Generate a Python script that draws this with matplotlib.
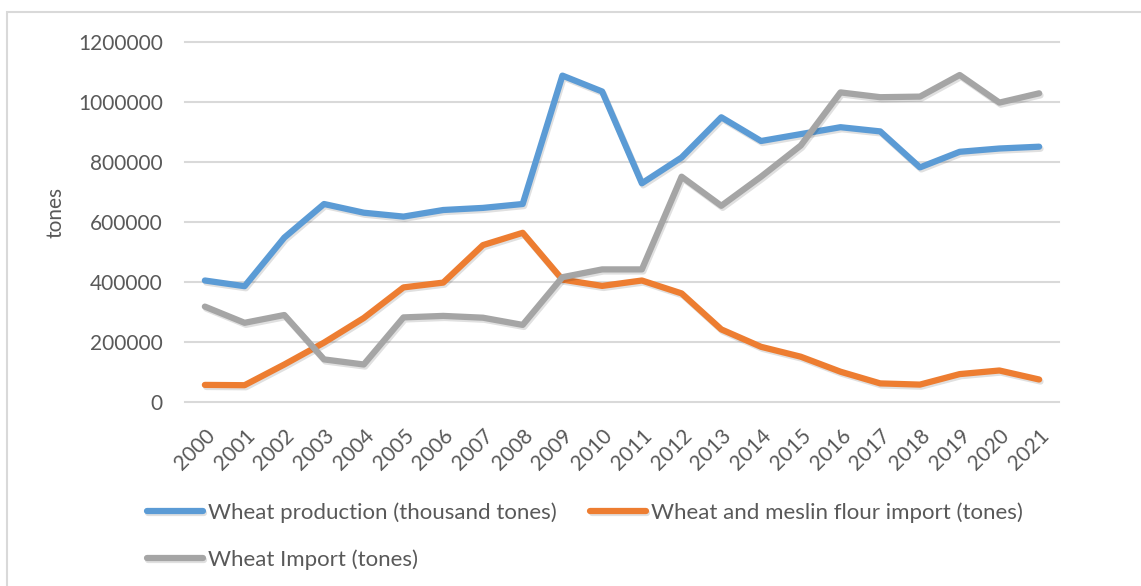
import matplotlib
matplotlib.use("Agg")
import matplotlib.pyplot as plt
import matplotlib.patheffects as pe
from matplotlib.patches import Rectangle

# ----- Datos -----
years = [str(y) for y in range(2000, 2022)]
wheat_production = [405000, 386000, 548000, 660000, 631000, 618000, 640000, 647000, 660000,
                    1088000, 1035000, 729000, 815000, 949000, 870000, 893000, 916000, 902000,
                    782000, 834000, 845000, 851000]
flour_import = [57000, 56000, 125000, 198000, 280000, 382000, 398000, 523000, 564000,
                408000, 387000, 405000, 362000, 242000, 184000, 151000, 101000, 62000,
                58000, 93000, 105000, 75000]
wheat_import = [318000, 264000, 290000, 142000, 125000, 282000, 287000, 281000, 257000,
                416000, 442000, 442000, 751000, 654000, 751000, 855000, 1032000, 1016000,
                1018000, 1090000, 998000, 1029000]
yticks = [0, 200000, 400000, 600000, 800000, 1000000, 1200000]

# ----- Estilo -----
BLUE = "#5B9BD5"
ORANGE = "#ED7D31"
GRAY = "#A5A5A5"
TXT = "#595959"
GRID = "#D9D9D9"
plt.rcParams['font.family'] = ['Lato', 'DejaVu Sans']

fig = plt.figure(figsize=(11.41, 5.86), dpi=100)
W, H = 1141, 586
ax = fig.add_axes([185 / W, 1 - 402 / H, (1059 - 185) / W, 360 / H])

shadow = [pe.SimpleLineShadow(offset=(1, -1.5), shadow_color="#000000", alpha=0.12), pe.Normal()]
x = list(range(len(years)))
l1, = ax.plot(x, wheat_production, color=BLUE, lw=4.5, solid_joinstyle='round',
              solid_capstyle='round', path_effects=shadow, label="Wheat production (thousand tones)", zorder=3)
l2, = ax.plot(x, flour_import, color=ORANGE, lw=4.5, solid_joinstyle='round',
              solid_capstyle='round', path_effects=shadow, label="Wheat and meslin flour import (tones)", zorder=3)
l3, = ax.plot(x, wheat_import, color=GRAY, lw=4.5, solid_joinstyle='round',
              solid_capstyle='round', path_effects=shadow, label="Wheat Import (tones)", zorder=3)

ax.set_xlim(-0.5, len(years) - 0.5)
ax.set_ylim(0, 1200000)
ax.set_yticks(yticks)
ax.set_yticklabels([str(v) for v in yticks])
ax.set_xticks(x)
ax.set_xticklabels(years, rotation=45, ha='right', va='top', rotation_mode='anchor')
ax.tick_params(axis='both', length=0, labelcolor=TXT, labelsize=15)
ax.tick_params(axis='y', pad=16)
ax.tick_params(axis='x', pad=17)
ax.grid(axis='y', color=GRID, lw=1.5)
for g in ax.get_ygridlines():
    g.set_clip_on(False)
ax.set_axisbelow(True)
for s in ax.spines.values():
    s.set_visible(False)

fig.text(55 / W, 1 - 212 / H, "tones", rotation=90, ha='center', va='center', color=TXT, fontsize=15)

# ----- Leyenda -----
fig.legend([l1, l3, l2], [l1.get_label(), l3.get_label(), l2.get_label()],
           ncol=2, loc='upper left', bbox_to_anchor=(147 / W, 1 - 502 / H),
           frameon=False, fontsize=16, labelcolor=TXT, handlelength=2.5,
           handletextpad=0.25, columnspacing=1.5, labelspacing=1.2,
           borderpad=0, borderaxespad=0)

# ----- Borde -----
fig.add_artist(Rectangle((7 / W, -0.1), 1.2, 1 - 12 / H + 0.1, transform=fig.transFigure,
                         fill=False, edgecolor=GRID, lw=1.5))

fig.savefig("out.png", dpi=100)
